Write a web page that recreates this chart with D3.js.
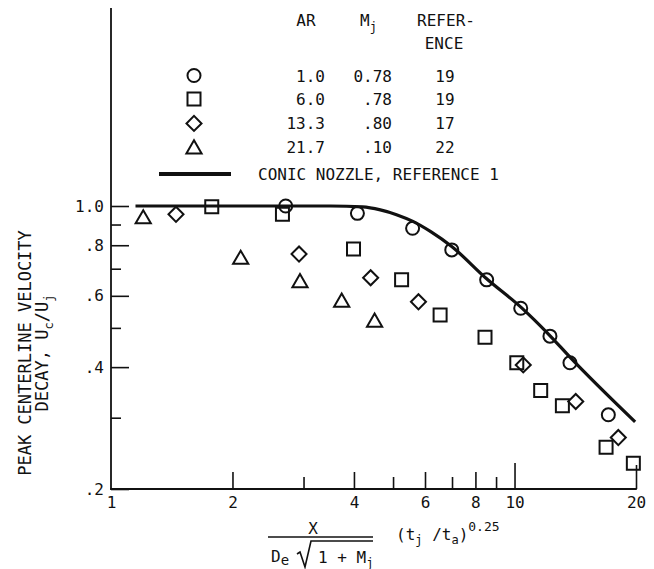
<!DOCTYPE html>
<html><head><meta charset="utf-8">
<script src="https://cdn.jsdelivr.net/npm/d3@7"></script>
<style>
body{margin:0;background:#fff;}
svg text{font-family:"DejaVu Sans Mono","Liberation Mono",monospace;fill:#111;}
</style></head><body>
<svg id="c" width="654" height="569"></svg>
<script>
// ---- data ----
const circleX=[2.71,4.08,5.59,6.99,8.53,10.36,12.24,13.72,17.08];
const circleY=[1.0,0.959,0.881,0.779,0.657,0.559,0.477,0.410,0.305];
const squareX=[1.777,2.66,3.99,5.25,6.54,8.45,10.13,11.61,13.14,16.86,19.70];
const squareY=[0.996,0.954,0.783,0.657,0.538,0.474,0.410,0.350,0.321,0.2535,0.2315];
const diamondX=[1.449,2.924,4.40,5.78,10.51,14.18,18.08];
const diamondY=[0.954,0.761,0.665,0.580,0.405,0.329,0.268];
const triangleX=[1.202,2.096,2.94,3.73,4.50];
const triangleY=[0.929,0.738,0.646,0.578,0.516];
const conicX=[1.15,3.5,4.2,4.65,5.1,5.6,6.2,7.0,8.5,10.4,12.2,13.7,19.9];
const conicY=[1.0,1.0,0.995,0.978,0.952,0.916,0.864,0.793,0.663,0.561,0.480,0.424,0.293];
const xLabeled=[1,2,4,6,8,10,20];
const xMinor=[3,5,7,9];
const yMajor=[0.2,0.4,0.6,0.8,1.0];
const yMinor=[0.3,0.5,0.7,0.9];
const legendAR=["1.0","6.0","13.3","21.7"];
const legendMj=["0.78",".78",".80",".10"];
const legendRef=["19","19","17","22"];
const legendShapes=["circle","square","diamond","triangle"];

// ---- chart ----
const ink="#111";
const svg=d3.select("#c");
const x=d3.scaleLog().domain([1,20]).range([111,636]);
const y=d3.scaleLog().domain([0.2,1]).range([489,206]);

// Y axis
const yAll=[...yMajor,...yMinor].sort((a,b)=>a-b);
const fmtY=d=>d===1?"1.0":"."+Math.round(d*10);
const gy=svg.append("g").attr("transform","translate(111,0)")
  .call(d3.axisLeft(y).tickValues(yAll).tickSize(-18).tickPadding(7)
    .tickFormat(d=>yMajor.includes(d)?fmtY(d):""));
gy.select(".domain").remove();
gy.selectAll(".tick line").attr("x2",d=>yMajor.includes(d)?18:10)
  .attr("stroke",ink).attr("stroke-width",1.6);
gy.selectAll(".tick text").style("font-size","16px").attr("fill",ink);
svg.append("line").attr("x1",111).attr("x2",111).attr("y1",8).attr("y2",489.8)
  .attr("stroke",ink).attr("stroke-width",1.8);

// X axis
const xAll=[...xLabeled,...xMinor].sort((a,b)=>a-b);
const tickLen=d=>d===1?0:d===10?26:d===20?24:xMinor.includes(d)?12:17;
const gx=svg.append("g").attr("transform","translate(0,489)")
  .call(d3.axisBottom(x).tickValues(xAll).tickSize(-17).tickPadding(8)
    .tickFormat(d=>xLabeled.includes(d)?String(d):""));
gx.select(".domain").remove();
gx.selectAll(".tick line").attr("y2",d=>-tickLen(d))
  .attr("stroke",ink).attr("stroke-width",1.6);
gx.selectAll(".tick text").style("font-size","16px").attr("fill",ink);
svg.append("line").attr("x1",110.2).attr("x2",636.8).attr("y1",489).attr("y2",489)
  .attr("stroke",ink).attr("stroke-width",1.8);

// conic curve
const line=d3.line().x(d=>x(d[0])).y(d=>y(d[1])).curve(d3.curveMonotoneX);
svg.append("path").datum(conicX.map((v,i)=>[v,conicY[i]]))
  .attr("d",line).attr("fill","none").attr("stroke",ink).attr("stroke-width",3.2);

// markers
const sym={
  circle:d3.symbol().type(d3.symbolCircle).size(133)(),
  square:d3.symbol().type(d3.symbolSquare).size(169)(),
  diamond:d3.symbol().type(d3.symbolSquare).size(113)(),
  triangle:d3.symbol().type(d3.symbolTriangle).size(100)()
};
const rot={diamond:45};
function drawMarks(xs,ys,shape){
  svg.append("g").selectAll("path").data(xs.map((v,i)=>[v,ys[i]])).join("path")
    .attr("d",sym[shape])
    .attr("transform",d=>`translate(${x(d[0])},${y(d[1])}) rotate(${rot[shape]||0})`)
    .attr("fill","none").attr("stroke",ink).attr("stroke-width",2);
}
drawMarks(circleX,circleY,"circle");
drawMarks(squareX,squareY,"square");
drawMarks(diamondX,diamondY,"diamond");
drawMarks(triangleX,triangleY,"triangle");

// legend
const lg=svg.append("g").style("font-size","16px");
lg.append("text").attr("x",306).attr("y",26).attr("text-anchor","middle").text("AR");
const mj=lg.append("text").attr("x",360).attr("y",26);
mj.append("tspan").text("M");
mj.append("tspan").attr("dy",5).style("font-size","12px").text("j");
lg.append("text").attr("x",446).attr("y",26).attr("text-anchor","middle").text("REFER-");
lg.append("text").attr("x",444).attr("y",49).attr("text-anchor","middle").text("ENCE");
const rowY=[75.5,99,123.4,147];
legendShapes.forEach((s,i)=>{
  const cy=rowY[i]+(s==="triangle"?2:0);
  lg.append("path").attr("d",sym[s])
    .attr("transform",`translate(194,${cy}) rotate(${rot[s]||0})`)
    .attr("fill","none").attr("stroke",ink).attr("stroke-width",2);
  lg.append("text").attr("x",325).attr("y",rowY[i]+6).attr("text-anchor","end").text(legendAR[i]);
  lg.append("text").attr("x",392).attr("y",rowY[i]+6).attr("text-anchor","end").text(legendMj[i]);
  lg.append("text").attr("x",445).attr("y",rowY[i]+6).attr("text-anchor","middle").text(legendRef[i]);
});
lg.append("line").attr("x1",159).attr("x2",231).attr("y1",174).attr("y2",174)
  .attr("stroke",ink).attr("stroke-width",4);
lg.append("text").attr("x",258).attr("y",180).text("CONIC NOZZLE, REFERENCE 1");

// y axis title
const yt=svg.append("g").style("font-size","17px");
yt.append("text").attr("transform","translate(31,353) rotate(-90)")
  .attr("text-anchor","middle").text("PEAK CENTERLINE VELOCITY");
const t2=yt.append("text").attr("transform","translate(48,353) rotate(-90)")
  .attr("text-anchor","middle");
t2.append("tspan").text("DECAY, U");
t2.append("tspan").attr("dy",5).style("font-size","12px").text("c");
t2.append("tspan").attr("dy",-5).text("/U");
t2.append("tspan").attr("dy",5).style("font-size","12px").text("j");

// x axis title
const xt=svg.append("g").style("font-size","16px");
xt.append("text").attr("x",313).attr("y",534).attr("text-anchor","middle").text("X");
xt.append("line").attr("x1",268).attr("x2",373).attr("y1",537).attr("y2",537)
  .attr("stroke",ink).attr("stroke-width",1.3);
const de=xt.append("text").attr("x",271).attr("y",562);
de.append("tspan").text("D");
de.append("tspan").attr("dy",3).style("font-size","14px").text("e");
xt.append("path").attr("d","M297,554 L300,552 L305,567 L311,541 L373,541")
  .attr("fill","none").attr("stroke",ink).attr("stroke-width",1.6);
const rt=xt.append("text").attr("x",318).attr("y",563);
rt.append("tspan").text("1 + M");
rt.append("tspan").attr("dy",4).style("font-size","12px").text("j");
const tt=xt.append("text").attr("x",396).attr("y",540);
tt.append("tspan").text("(t");
tt.append("tspan").attr("dy",4).style("font-size","12px").text("j");
tt.append("tspan").attr("dy",-4).text(" /t");
tt.append("tspan").attr("dy",4).style("font-size","12px").text("a");
tt.append("tspan").attr("dy",-4).text(")");
tt.append("tspan").attr("dy",-9).style("font-size","13px").text("0.25");
</script>
</body></html>
